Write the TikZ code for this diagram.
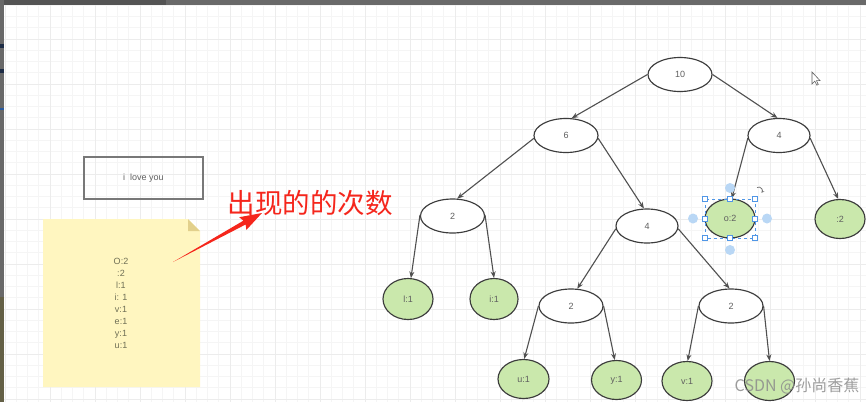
\documentclass[tikz,border=0pt]{standalone}
\usepackage{fontspec}
\setmainfont{Liberation Sans}
\newfontfamily\cjk{Noto Sans CJK SC}
\usetikzlibrary{arrows.meta,shapes.geometric}
\definecolor{gridminor}{RGB}{245,245,245}
\definecolor{gridmajor}{RGB}{236,236,236}
\definecolor{edgec}{RGB}{60,60,60}
\definecolor{txt}{RGB}{95,95,95}
\definecolor{gfill}{RGB}{202,232,172}
\definecolor{notefill}{RGB}{255,246,192}
\definecolor{notefold}{RGB}{226,208,140}
\definecolor{redc}{RGB}{245,38,28}
\definecolor{selblue}{RGB}{80,150,230}
\definecolor{selcirc}{RGB}{185,215,245}
\definecolor{framegray}{RGB}{105,105,105}
\definecolor{olive}{RGB}{100,96,70}
\definecolor{darkblue}{RGB}{30,45,70}
\definecolor{midblue}{RGB}{40,90,160}
\begin{document}
\begin{tikzpicture}[x=1pt,y=-1pt,
  wn/.style={ellipse, draw=edgec, fill=white, line width=1.15pt, minimum width=64pt, minimum height=34pt, inner sep=0pt, font=\fontsize{9}{9}\selectfont, text=txt},
  gn/.style={ellipse, draw=edgec, fill=gfill, line width=1.15pt, minimum width=50pt, minimum height=39pt, inner sep=0pt, font=\fontsize{9}{9}\selectfont, text=txt},
  edge/.style={draw=edgec!90, line width=1.1pt, -{Stealth[length=6.5pt,width=5pt]}},
  handle/.style={draw=selblue, fill=white, line width=0.7pt, minimum size=5pt, inner sep=0pt, rectangle},
  hcirc/.style={circle, fill=selcirc, minimum size=10pt, inner sep=0pt}]
\useasboundingbox (0,0) rectangle (866,402);
\fill[white] (0,0) rectangle (866,402);
% grid
\foreach \i in {0,...,77} \draw[gridminor, line width=0.8pt] ({5+11.25*\i},0) -- ({5+11.25*\i},402);
\foreach \j in {1,...,36} \draw[gridminor, line width=0.8pt] (0,{-6+11.25*\j}) -- (866,{-6+11.25*\j});
\foreach \i in {0,...,19} \draw[gridmajor, line width=0.8pt] ({5+45*\i},0) -- ({5+45*\i},402);
\foreach \j in {1,...,9} \draw[gridmajor, line width=0.8pt] (0,{-6+45*\j}) -- (866,{-6+45*\j});
% window frame strips
\fill[framegray] (0,0) rectangle (866,5);
\fill[framegray!80!black] (0,0) rectangle (166,5);
\fill[framegray] (0,0) rectangle (4,402);
\fill[olive] (0,297) rectangle (4,402);
\fill[darkblue] (0,44) rectangle (4,48);
\fill[darkblue] (0,69) rectangle (4,73);
\fill[midblue] (0,108) rectangle (4,110);

% left side: sentence box
\node[draw=framegray!90, line width=1.3pt, minimum width=119pt, minimum height=42pt, inner sep=0pt,
      font=\fontsize{9}{9}\selectfont, text=txt] (sent) at (143.5,178) {i\ \ love you};
% sticky note
\fill[notefill] (43,219) -- (188,219) -- (200,231) -- (200,387) -- (43,387) -- cycle;
\fill[notefold] (188,219) -- (200,231) -- (188,231) -- cycle;
\node[inner sep=0pt, align=center, text=txt!90!yellow, font=\fontsize{9}{12}\selectfont] (note) at (121,303.5)
  {O:2\\ :2\\ l:1\\ i: 1\\ v:1\\ e:1\\ y:1\\ u:1};
% red arrow and label
\coordinate (rtail) at (173,262);
\coordinate (rtip) at (262,213);
\fill[redc] (rtail) -- (245.6,224.5) -- (246.4,229.9) -- (rtip) -- (239.2,217.2) -- (243.4,220.7) -- cycle;
\node[inner sep=0pt, text=redc, font=\cjk\fontsize{27.5}{28}\selectfont] (lbl) at (310,203) {出现的的次数};

% tree
\node[wn] (r) at (680,74.5) {10};
\node[wn] (a) at (566,135.5) {6};
\node[wn, minimum width=62pt] (b) at (779,135.5) {4};
\node[wn] (c) at (452.5,216) {2};
\node[wn, minimum width=62pt] (d) at (647,226) {4};
\node[gn] (o) at (730,218.5) {o:2};
\node[gn] (sp) at (840,219) {:2};
\node[gn, minimum height=41pt] (l) at (408,299) {l:1};
\node[gn, minimum height=41pt, minimum width=48pt] (i) at (494,299) {i:1};
\node[wn] (e) at (571,306) {2};
\node[wn] (f) at (731,306) {2};
\node[gn, minimum width=51pt] (u) at (523.5,379) {u:1};
\node[gn] (y) at (616.5,380) {y:1};
\node[gn] (v) at (687,381) {v:1};
\node[gn] (w) at (769.5,381) {};

\draw[edge] (r.west) -- (a.72);
\draw[edge] (r.east) -- (b.95);
\draw[edge] (a.185) -- (c.75);
\draw[edge] (a.355) -- (d.100);
\draw[edge] (b.185) -- (o.85);
\draw[edge] (b.355) -- (sp.95);
\draw[edge] (c.178) -- (l.82);
\draw[edge] (c.2) -- (i.90);
\draw[edge] (d.185) -- (e.70);
\draw[edge] (d.355) -- (f.95);
\draw[edge] (e.180) -- (u.88);
\draw[edge] (e.0) -- (y.95);
\draw[edge] (f.180) -- (v.88);
\draw[edge] (f.0) -- (w.90);

% selection decorations around o:2
\draw[selblue, dashed, line width=0.7pt] (705,199) rectangle (755,238);
\foreach \p in {(705,199),(730,199),(755,199),(705,218.5),(755,218.5),(705,238),(730,238),(755,238)}
  \node[handle] at \p {};
\foreach \p in {(730,188),(693,218.5),(767,218.5),(730,250)}
  \node[hcirc] at \p {};
\draw[edgec!70, line width=0.8pt, -{Stealth[length=3pt,width=3pt]}] (757,187.5) arc[start angle=120, end angle=-40, radius=3.5pt];
% cursor
\draw[txt, fill=white, line width=0.6pt] (812,72) -- (812,84) -- (814.8,81.2) -- (816.8,85.2) -- (818.3,84.5) -- (816.4,80.6) -- (820,80.6) -- cycle;
% watermark
\node[inner sep=0pt, text=black!45, opacity=0.85, font=\cjk\fontsize{16}{16}\selectfont] (wm) at (797,386) {CSDN @孙尚香蕉};
\end{tikzpicture}
\end{document}
